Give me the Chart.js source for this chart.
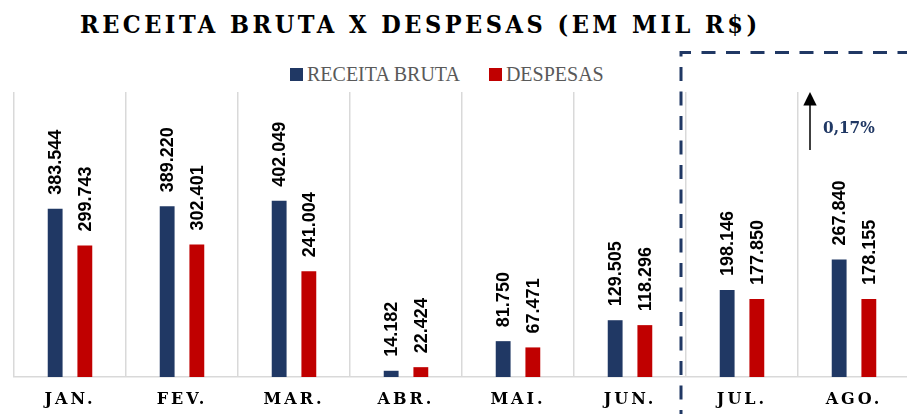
<!DOCTYPE html>
<html lang="pt-BR">
<head>
<meta charset="utf-8">
<script src="https://cdn.jsdelivr.net/npm/chart.js@4"></script>
<style>
    html, body { margin: 0; padding: 0; background: #fff; overflow: hidden; }
    #wrap { position: relative; width: 920px; height: 414px; }
    #titulo {
        position: absolute; left: 80px; top: 12px; margin: 0;
        font: bold 25px/25px "DejaVu Serif Condensed", "DejaVu Serif", serif;
        letter-spacing: 3.5px; color: #000; white-space: nowrap;
    }
    #legenda {
        position: absolute; left: 290px; top: 64px; display: flex; align-items: center;
        font: 20px/20px "Liberation Serif", serif; color: #595959; white-space: nowrap;
    }
    #legenda .item { display: flex; align-items: center; margin-right: 29px; }
    #legenda .caixa { width: 13px; height: 13px; margin-right: 4px; }
    canvas { position: absolute; left: 0; top: 0; }
</style>
</head>
<body>
<div id="wrap">
    <h1 id="titulo">RECEITA BRUTA X DESPESAS (EM MIL R$)</h1>
    <div id="legenda"></div>
    <canvas id="grafico" width="920" height="414"></canvas>
</div>
<script>
const categorias = ["JAN.", "FEV.", "MAR.", "ABR.", "MAI.", "JUN.", "JUL.", "AGO."];
const receitaBruta = [383544, 389220, 402049, 14182, 81750, 129505, 198146, 267840];
const despesas = [299743, 302401, 241004, 22424, 67471, 118296, 177850, 178155];
const nomesSeries = ["RECEITA BRUTA", "DESPESAS"];
const coresSeries = ["#203864", "#C00000"];
const yMax = 650000;
const variacao = "0,17%";

// 383544 -> "383.544"
function formatar(v) {
    return String(Math.round(v)).replace(/\B(?=(\d{3})+(?!\d))/g, ".");
}

// letter spacing only for the month labels
const espacamento = {
    id: "espacamento",
    beforeDraw(chart) { chart.ctx.letterSpacing = "3px"; },
    beforeDatasetsDraw(chart) { chart.ctx.letterSpacing = "0px"; }
};

// vertical value labels over each bar
const rotulos = {
    id: "rotulos",
    afterDatasetsDraw(chart) {
        const ctx = chart.ctx;
        ctx.save();
        ctx.font = "bold 18px 'Liberation Sans', Arial, sans-serif";
        ctx.fillStyle = "#000";
        ctx.textAlign = "left";
        ctx.textBaseline = "middle";
        chart.data.datasets.forEach((ds, i) => {
            chart.getDatasetMeta(i).data.forEach((bar, j) => {
                ctx.save();
                ctx.translate(bar.x + 1, bar.y - 14);
                ctx.rotate(-Math.PI / 2);
                ctx.fillText(formatar(ds.data[j]), 0, 0);
                ctx.restore();
            });
        });
        ctx.restore();
    }
};

// dashed highlight box around JUL./AGO. with the growth arrow
const destaque = {
    id: "destaque",
    afterDraw(chart) {
        const ctx = chart.ctx;
        const x = chart.scales.x;
        const area = chart.chartArea;
        const meia = (x.getPixelForValue(1) - x.getPixelForValue(0)) / 2;
        const esq = x.getPixelForValue(6) - meia - 5;
        const topo = area.top - 39.5;

        ctx.save();
        ctx.strokeStyle = "#203864";
        ctx.lineWidth = 3;
        ctx.setLineDash([14, 10.5]);
        ctx.beginPath();
        ctx.moveTo(esq, chart.height + 10);
        ctx.lineTo(esq, topo);
        ctx.lineTo(chart.width + 10, topo);
        ctx.stroke();
        ctx.setLineDash([]);

        const ax = x.getPixelForValue(7) - meia + 12;
        ctx.strokeStyle = "#000";
        ctx.fillStyle = "#000";
        ctx.lineWidth = 1.5;
        ctx.beginPath();
        ctx.moveTo(ax, area.top + 58);
        ctx.lineTo(ax, area.top + 10);
        ctx.stroke();
        ctx.beginPath();
        ctx.moveTo(ax, area.top);
        ctx.lineTo(ax - 6.7, area.top + 13.5);
        ctx.lineTo(ax + 6.7, area.top + 13.5);
        ctx.closePath();
        ctx.fill();

        ctx.font = "bold 17px 'DejaVu Serif Condensed', 'DejaVu Serif', serif";
        ctx.fillStyle = "#203864";
        ctx.textAlign = "left";
        ctx.textBaseline = "middle";
        ctx.fillText(variacao, ax + 13, area.top + 37);
        ctx.restore();
    }
};

const chart = new Chart(document.getElementById("grafico"), {
    type: "bar",
    data: {
        labels: categorias,
        datasets: [
            { label: nomesSeries[0], data: receitaBruta, backgroundColor: coresSeries[0] },
            { label: nomesSeries[1], data: despesas, backgroundColor: coresSeries[1] }
        ]
    },
    options: {
        responsive: false,
        animation: false,
        categoryPercentage: 0.53,
        barPercentage: 0.5,
        layout: { padding: { top: 92, left: 14, right: 10, bottom: 0 } },
        plugins: {
            legend: { display: false },
            title: { display: false },
            tooltip: { enabled: false }
        },
        scales: {
            x: {
                grid: { color: "#d9d9d9", lineWidth: 1.5, drawTicks: false },
                border: { color: "#d9d9d9", width: 1.5 },
                ticks: {
                    color: "#000",
                    padding: 13,
                    font: { family: "'DejaVu Serif', serif", weight: "bold", size: 16 }
                },
                afterFit(scale) { scale.height = 37; }
            },
            y: { display: false, min: 0, max: yMax }
        }
    },
    plugins: [espacamento, rotulos, destaque]
});

// legend built from the datasets
const legenda = document.getElementById("legenda");
chart.data.datasets.forEach(ds => {
    const item = document.createElement("span");
    item.className = "item";
    item.innerHTML = `<span class="caixa" style="background:${ds.backgroundColor}"></span>${ds.label}`;
    legenda.appendChild(item);
});
</script>
</body>
</html>
